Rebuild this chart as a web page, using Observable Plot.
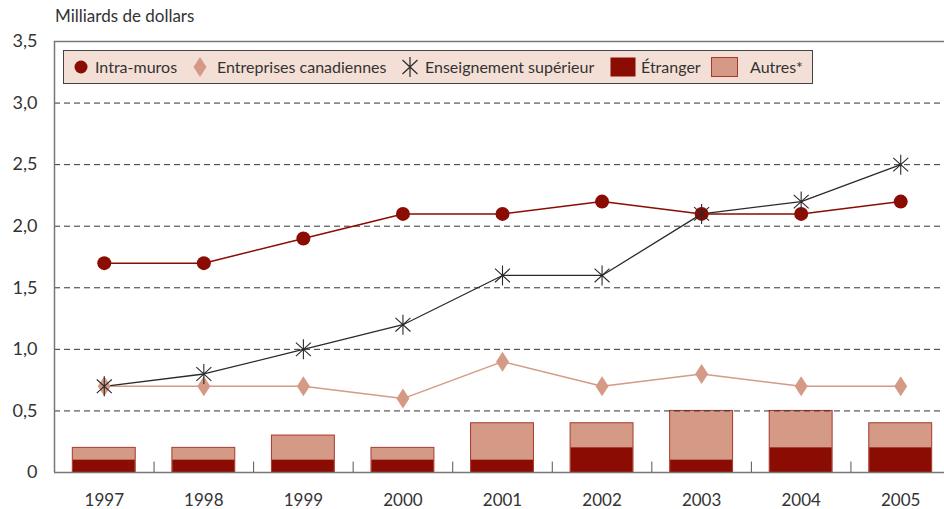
<!DOCTYPE html>
<html><head><meta charset="utf-8">
<script src="https://cdn.jsdelivr.net/npm/d3@7"></script>
<script src="https://cdn.jsdelivr.net/npm/@observablehq/plot@0.6"></script>
<style>
body{margin:0;overflow:hidden;background:#fff;}
#wrap{position:relative;width:944px;height:509px;overflow:hidden;font-family:Lato,"Open Sans",sans-serif;color:#333;}
#title{position:absolute;left:55px;top:5px;font-size:17px;line-height:22px;}
#legend{position:absolute;left:63px;top:50px;width:748px;height:32px;background:#f3dfd5;border:1px solid #444;font-size:16px;}
#legend .it{position:absolute;top:0;height:32px;line-height:32px;white-space:nowrap;}
#legend svg{position:absolute;}
#chart{position:absolute;left:0;top:0;width:950px;}
#chart > svg{max-width:none !important;width:950px !important;height:509px !important;}
</style></head>
<body><div id="wrap"><div id="chart"></div><div id="title">Milliards de dollars</div><div id="legend"></div></div>
<script>
const years = [1997, 1998, 1999, 2000, 2001, 2002, 2003, 2004, 2005];
const intraMuros = [1.7, 1.7, 1.9, 2.1, 2.1, 2.2, 2.1, 2.1, 2.2];
const entreprises = [0.7, 0.7, 0.7, 0.6, 0.9, 0.7, 0.8, 0.7, 0.7];
const enseignement = [0.7, 0.8, 1.0, 1.2, 1.6, 1.6, 2.1, 2.2, 2.5];
const etranger = [0.1, 0.1, 0.1, 0.1, 0.1, 0.2, 0.1, 0.2, 0.2];
const autres = [0.1, 0.1, 0.2, 0.1, 0.3, 0.2, 0.4, 0.3, 0.2];
const yTicks = [0, 0.5, 1.0, 1.5, 2.0, 2.5, 3.0, 3.5];
const gridTicks = [0.5, 1.0, 1.5, 2.0, 2.5, 3.0];
const seriesNames = ["Intra-muros", "Entreprises canadiennes", "Enseignement supérieur", "Étranger", "Autres*"];

const C_RED = "#8b0c02", C_SALMON = "#d49a86", C_BLACK = "#2a2a2a", C_BAR_EDGE = "#a8392e";

const rows = years.map((y, i) => ({
  year: y, intra: intraMuros[i], entr: entreprises[i], ens: enseignement[i],
  etr: etranger[i], total: +(etranger[i] + autres[i]).toFixed(2)
}));
const bounds = years.slice(0, -1).map(y => y + 0.5);
const half = 0.316;

const tallDiamond = {draw(ctx, size) {
  const s = Math.sqrt(size / Math.PI);
  ctx.moveTo(0, -s); ctx.lineTo(0.65 * s, 0); ctx.lineTo(0, s); ctx.lineTo(-0.65 * s, 0); ctx.closePath();
}};
const star = {draw(ctx, size) {
  const s = Math.sqrt(size / Math.PI);
  ctx.moveTo(0, -s); ctx.lineTo(0, s);
  ctx.moveTo(-0.75 * s, -0.68 * s); ctx.lineTo(0.75 * s, 0.68 * s);
  ctx.moveTo(-0.75 * s, 0.68 * s); ctx.lineTo(0.75 * s, -0.68 * s);
}};

const fmt = d => d === 0 ? "0" : d.toFixed(1).replace(".", ",");

const plot = Plot.plot({
  width: 950, height: 509,
  marginTop: 41, marginBottom: 37, marginLeft: 54, marginRight: 0,
  style: {fontFamily: "Lato,'Open Sans',sans-serif", fontSize: "18px", color: "#333", background: "transparent"},
  x: {type: "linear", domain: [1996.5, 2005.5], axis: null},
  y: {domain: [0, 3.5], axis: null},
  marks: [
    Plot.rectY(rows, {x1: d => d.year - half, x2: d => d.year + half, y1: 0, y2: "total", fill: C_SALMON, stroke: C_BAR_EDGE, strokeWidth: 1}),
    Plot.rectY(rows, {x1: d => d.year - half + 0.005, x2: d => d.year + half - 0.005, y1: 0, y2: "etr", fill: C_RED}),
    Plot.ruleY(gridTicks, {stroke: "#333", strokeDasharray: "6,4", strokeWidth: 1}),
    Plot.ruleY([0, 3.5], {stroke: "#777", strokeWidth: 1.5}),
    Plot.ruleX([1996.5], {y1: 0, y2: 3.5, stroke: "#777", strokeWidth: 1.5}),
    Plot.ruleX(bounds, {y1: 0, y2: 0.085, stroke: "#555", strokeWidth: 1}),
    Plot.axisY({ticks: yTicks, tickSize: 0, tickPadding: 17, tickFormat: fmt, fontSize: 18, label: null}),
    Plot.axisX({ticks: years, tickSize: 0, tickPadding: 21, tickFormat: d => String(d), fontSize: 17, label: null}),
    Plot.line(rows, {x: "year", y: "intra", stroke: C_RED, strokeWidth: 1.5}),
    Plot.line(rows, {x: "year", y: "entr", stroke: C_SALMON, strokeWidth: 1.5}),
    Plot.line(rows, {x: "year", y: "ens", stroke: C_BLACK, strokeWidth: 1.3}),
    Plot.dot(rows, {x: "year", y: "entr", symbol: tallDiamond, r: 10, fill: C_SALMON, stroke: "none"}),
    Plot.dot(rows, {x: "year", y: "intra", r: 7, fill: C_RED, stroke: "none"}),
    Plot.dot(rows, {x: "year", y: "ens", symbol: star, r: 10, fill: "none", stroke: C_BLACK, strokeWidth: 1.1})
  ]
});
document.getElementById("chart").appendChild(plot);

// Legend (HTML)
const leg = document.getElementById("legend");
const swatches = [
  `<svg width="16" height="16" style="left:9px;top:8px"><circle cx="8" cy="8" r="6.5" fill="${C_RED}"/></svg>`,
  `<svg width="14" height="22" style="left:129px;top:5px"><path d="M7,1 L13.5,11 L7,21 L0.5,11Z" fill="${C_SALMON}"/></svg>`,
  `<svg width="22" height="22" style="left:335px;top:5px"><path d="M11,1V21M3.5,4L18.5,18M3.5,18L18.5,4" stroke="${C_BLACK}" stroke-width="1.2" fill="none"/></svg>`,
  `<svg width="26" height="20" style="left:546px;top:6px"><rect x="0.5" y="0.5" width="25" height="19" fill="${C_RED}"/></svg>`,
  `<svg width="28" height="20" style="left:647px;top:6px"><rect x="0.5" y="0.5" width="26" height="19" fill="${C_SALMON}" stroke="${C_BAR_EDGE}"/></svg>`
];
const textLeft = [31, 153, 361, 577, 686];
seriesNames.forEach((n, i) => {
  leg.insertAdjacentHTML("beforeend", swatches[i]);
  const s = document.createElement("div");
  s.className = "it"; s.style.left = textLeft[i] + "px"; s.textContent = n;
  leg.appendChild(s);
});
</script></body></html>
